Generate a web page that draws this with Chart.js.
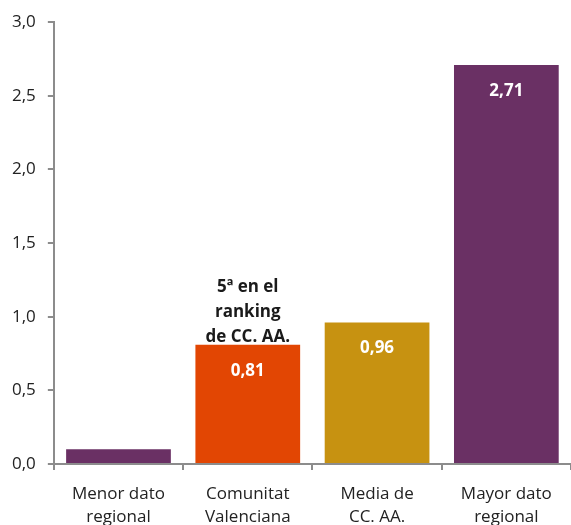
<!DOCTYPE html>
<html><head><meta charset="utf-8">
<script src="https://cdn.jsdelivr.net/npm/chart.js@4/dist/chart.umd.min.js"></script>
<style>html,body{margin:0;padding:0;background:#fff}#wrap{width:571px;height:525px}</style>
</head><body><div id="wrap"><canvas id="c" width="571" height="525"></canvas></div>
<script>
const categories = [['Menor dato','regional'],['Comunitat','Valenciana'],['Media de','CC. AA.'],['Mayor dato','regional']];
const values = [0.10, 0.81, 0.96, 2.71];
const barColors = ['#6A3064','#E24603','#C79211','#6A3064'];
const valueLabels = ['', '0,81', '0,96', '2,71'];
const annotationIndex = 1;
const annotationLines = ['5ª en el','ranking','de CC. AA.'];
const yTicks = [0,0.5,1,1.5,2,2.5,3];

const FONT = '"Open Sans", "Noto Sans", sans-serif';

const labelsPlugin = {
  id: 'labels',
  afterDatasetsDraw(chart) {
    const ctx = chart.ctx;
    const meta = chart.getDatasetMeta(0);
    ctx.save();
    ctx.textAlign = 'center';
    ctx.textBaseline = 'middle';
    ctx.font = 'bold 17px ' + FONT;
    meta.data.forEach((bar, i) => {
      if (valueLabels[i]) {
        ctx.fillStyle = '#ffffff';
        ctx.fillText(valueLabels[i], bar.x, bar.y + 26);
      }
    });
    const b = meta.data[annotationIndex];
    ctx.fillStyle = '#1a1a1a';
    ctx.textBaseline = 'alphabetic';
    const lh = 25;
    annotationLines.forEach((t, k) => {
      ctx.fillText(t, b.x, b.y - 3 - (annotationLines.length - 1 - k) * lh);
    });
    ctx.restore();
  }
};

new Chart(document.getElementById('c'), {
  type: 'bar',
  data: { labels: categories, datasets: [{ data: values, backgroundColor: barColors, categoryPercentage: 0.81, barPercentage: 1.0 }] },
  options: {
    responsive: false, animation: false,
    layout: { padding: { top: 21, right: 0, left: 0, bottom: 0 } },
    plugins: { legend: { display: false }, tooltip: { enabled: false } },
    scales: {
      y: {
        min: 0, max: 3,
        afterBuildTicks(axis) { axis.ticks = yTicks.map(v => ({ value: v })); },
        ticks: { color: '#222', font: { family: FONT, size: 17 }, padding: 12, callback: v => v.toFixed(1).replace('.', ',') },
        grid: { drawOnChartArea: false, drawTicks: true, tickLength: 6, color: '#8c8c8c', lineWidth: 2 },
        border: { color: '#8c8c8c', width: 2 }
      },
      x: {
        offset: true,
        afterFit(scale) { scale.height = 61; },
        ticks: { color: '#222', font: { family: FONT, size: 17, lineHeight: 1.38 }, padding: 12, maxRotation: 0 },
        grid: { offset: true, drawOnChartArea: false, drawTicks: true, tickLength: 6, color: '#8c8c8c', lineWidth: 2 },
        border: { color: '#8c8c8c', width: 2 }
      }
    }
  },
  plugins: [labelsPlugin]
});
</script></body></html>
